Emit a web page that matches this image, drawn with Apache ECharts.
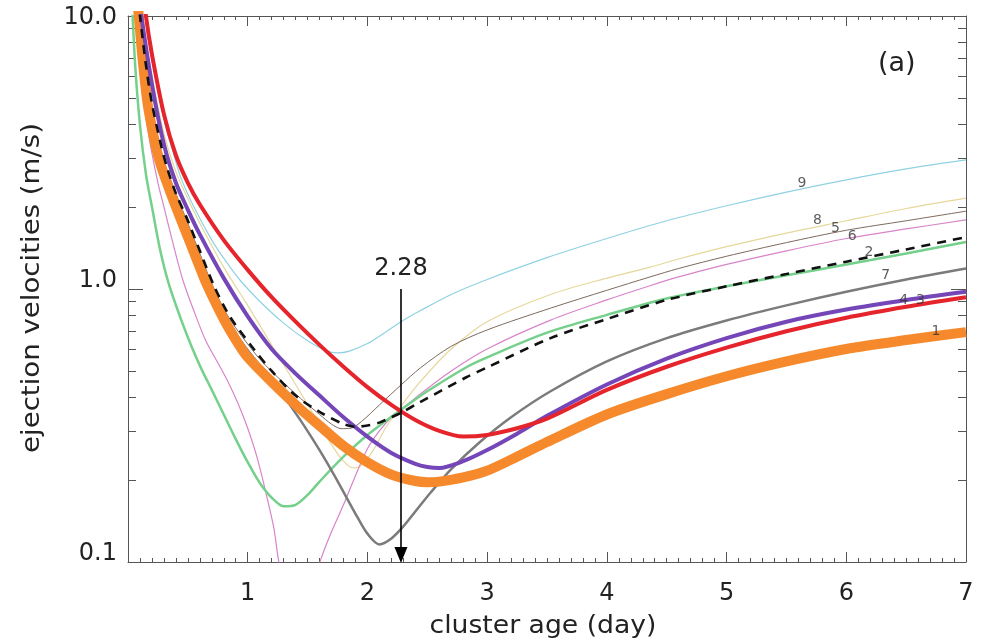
<!DOCTYPE html>
<html>
<head>
<meta charset="utf-8">
<script src="https://cdn.jsdelivr.net/npm/echarts@6/dist/echarts.min.js"></script>
<style>
  html, body { margin: 0; padding: 0; background: #fff; }
  #chart { width: 988px; height: 643px; }
</style>
</head>
<body>
<div id="chart"></div>
<script>
// curvas: [edad (día), velocidad (m/s)]
const curve1 = [[0.06,14],[0.09,10],[0.12,7.08],[0.16,4.9],[0.2,3.89],[0.25,3.09],[0.3,2.63],[0.4,2.0],[0.5,1.55],[0.6,1.2],[0.66,1.035],[0.8,0.776],[0.92,0.631],[1.0,0.562],[1.2,0.457],[1.44,0.363],[1.6,0.316],[1.8,0.266],[2.0,0.232],[2.2,0.209],[2.4,0.198],[2.5,0.196],[2.6,0.197],[2.8,0.204],[3.0,0.216],[3.25,0.243],[3.5,0.275],[4.0,0.347],[4.5,0.412],[5.0,0.479],[5.5,0.543],[6.0,0.603],[6.5,0.65],[7.0,0.695]];
const curve2 = [[0.02,15.8],[0.03,12],[0.06,6.61],[0.1,3.98],[0.15,2.63],[0.2,2.0],[0.27,1.38],[0.34,1.047],[0.45,0.759],[0.53,0.617],[0.61,0.513],[0.7,0.427],[0.8,0.347],[0.9,0.282],[1.0,0.232],[1.1,0.195],[1.2,0.172],[1.3,0.16],[1.4,0.162],[1.5,0.176],[1.6,0.197],[1.8,0.243],[2.0,0.292],[2.28,0.361],[2.5,0.422],[2.83,0.518],[3.0,0.562],[3.5,0.692],[4.0,0.804],[4.5,0.923],[5.0,1.023],[5.5,1.122],[6.0,1.23],[6.5,1.349],[7.0,1.486]];
const curve3 = [[0.13,12.6],[0.15,10],[0.2,7.24],[0.3,4.37],[0.4,3.09],[0.5,2.45],[0.6,2.04],[0.8,1.51],[1.0,1.175],[1.2,0.933],[1.4,0.759],[1.6,0.624],[1.8,0.519],[2.0,0.437],[2.2,0.376],[2.4,0.331],[2.6,0.302],[2.8,0.288],[3.0,0.292],[3.25,0.309],[3.5,0.335],[4.0,0.427],[4.5,0.519],[5.0,0.61],[5.5,0.7],[6.0,0.785],[6.5,0.861],[7.0,0.933]];
const curve4 = [[0.09,11.5],[0.2,5.62],[0.3,3.39],[0.4,2.45],[0.5,1.95],[0.6,1.585],[0.8,1.096],[1.0,0.794],[1.2,0.603],[1.4,0.49],[1.6,0.407],[1.8,0.339],[2.0,0.288],[2.2,0.251],[2.4,0.229],[2.5,0.223],[2.6,0.221],[2.8,0.234],[3.0,0.257],[3.25,0.295],[3.5,0.343],[4.0,0.447],[4.5,0.556],[5.0,0.661],[5.5,0.759],[6.0,0.841],[6.5,0.912],[7.0,0.977]];
const curve5 = [[0.06,13.2],[0.1,9.12],[0.2,4.47],[0.3,2.95],[0.4,2.24],[0.5,1.74],[0.6,1.35],[0.72,1.0],[0.85,0.776],[1.05,0.589],[1.15,0.525],[1.28,0.462],[1.44,0.398],[1.6,0.347],[1.7,0.32],[1.78,0.308],[1.86,0.309],[1.95,0.327],[2.1,0.376],[2.28,0.445],[2.44,0.513],[2.7,0.617],[3.0,0.708],[3.53,0.851],[4.0,0.989],[4.36,1.107],[4.6,1.189],[5.0,1.318],[5.5,1.479],[6.0,1.641],[6.5,1.778],[7.0,1.928]];
const curve6 = [[0.04,14.1],[0.06,11.2],[0.1,6.61],[0.15,4.27],[0.19,3.31],[0.25,2.45],[0.3,2.0],[0.38,1.445],[0.46,1.072],[0.55,0.832],[0.65,0.646],[0.75,0.537],[0.83,0.462],[0.92,0.38],[1.0,0.309],[1.08,0.24],[1.17,0.166],[1.22,0.132],[1.26,0.1],[1.32,0.079],[1.38,0.066],[1.45,0.06],[1.5,0.069],[1.55,0.083],[1.61,0.102],[1.7,0.129],[1.8,0.162],[1.9,0.207],[2.0,0.26],[2.1,0.302],[2.2,0.339],[2.28,0.361],[2.44,0.412],[2.7,0.501],[3.0,0.603],[3.53,0.769],[4.0,0.912],[4.36,1.028],[4.6,1.107],[5.0,1.23],[5.5,1.38],[6.0,1.531],[6.5,1.66],[7.0,1.791]];
const curve7 = [[0.06,13],[0.09,10],[0.12,7.41],[0.16,5.13],[0.2,4.07],[0.25,3.24],[0.3,2.75],[0.4,2.09],[0.5,1.62],[0.6,1.26],[0.66,1.084],[0.8,0.822],[0.92,0.668],[1.0,0.596],[1.1,0.525],[1.2,0.462],[1.28,0.417],[1.44,0.331],[1.6,0.257],[1.72,0.209],[1.82,0.174],[1.92,0.145],[2.0,0.127],[2.1,0.116],[2.2,0.122],[2.3,0.135],[2.4,0.153],[2.53,0.18],[2.7,0.219],[2.94,0.275],[3.2,0.339],[3.53,0.422],[4.0,0.543],[4.5,0.661],[5.0,0.767],[5.5,0.871],[6.0,0.977],[6.5,1.084],[7.0,1.189]];
const curve8 = [[0.08,12.6],[0.12,9.55],[0.2,6.03],[0.3,3.72],[0.4,2.69],[0.5,2.14],[0.6,1.74],[0.8,1.2],[1.0,0.871],[1.22,0.603],[1.4,0.447],[1.55,0.347],[1.7,0.269],[1.8,0.234],[1.88,0.221],[1.95,0.226],[2.05,0.257],[2.15,0.309],[2.28,0.372],[2.44,0.457],[2.7,0.603],[3.0,0.759],[3.53,0.955],[4.0,1.096],[4.36,1.202],[4.6,1.288],[5.0,1.429],[5.5,1.603],[6.0,1.778],[6.5,1.972],[7.0,2.153]];
const curve9 = [[0.12,12],[0.14,10],[0.2,6.92],[0.3,4.17],[0.37,3.24],[0.44,2.57],[0.55,2.0],[0.7,1.51],[0.82,1.259],[0.94,1.072],[1.1,0.902],[1.3,0.75],[1.5,0.646],[1.65,0.596],[1.75,0.583],[1.85,0.592],[2.0,0.631],[2.15,0.695],[2.28,0.759],[2.44,0.832],[2.7,0.955],[3.0,1.084],[3.5,1.303],[4.0,1.531],[4.5,1.778],[5.0,2.018],[5.5,2.265],[6.0,2.512],[6.5,2.754],[7.0,2.972]];
const curveMean = [[0.08,11.7],[0.1,10],[0.15,6.61],[0.2,4.79],[0.28,3.31],[0.33,2.75],[0.4,2.24],[0.5,1.78],[0.6,1.38],[0.72,1.023],[0.85,0.794],[1.05,0.603],[1.2,0.501],[1.4,0.407],[1.6,0.355],[1.8,0.32],[1.9,0.313],[2.0,0.316],[2.1,0.324],[2.2,0.339],[2.28,0.352],[2.44,0.385],[2.83,0.476],[3.0,0.516],[3.53,0.661],[4.0,0.776],[4.5,0.912],[5.0,1.023],[5.5,1.135],[6.0,1.259],[6.5,1.396],[7.0,1.549]];

// etiquetas numéricas sobre las curvas
const labelText = ['9', '8', '5', '6', '2', '7', '4', '3', '1'];
const labelAge = [5.63, 5.76, 5.91, 6.05, 6.19, 6.33, 6.48, 6.62, 6.75];
const labelVel = [2.44, 1.79, 1.67, 1.56, 1.36, 1.12, 0.91, 0.91, 0.70];

// flecha en 2.28 días
const arrowAge = 2.28;
const arrowTop = 1.0;
const arrowBottom = 0.106;

const yLabelLow = [0.1, 1];
const yLabelTop = [10];
const yMinor = [0.2, 0.3, 0.4, 0.5, 0.6, 0.7, 0.8, 0.9, 2, 3, 4, 5, 6, 7, 8, 9];

const FONT = 'DejaVu Sans';
const TXT = '#222';
const AX = '#555';

const chart = echarts.init(document.getElementById('chart'));

function line(data, color, width, extra) {
  return Object.assign({
    type: 'line',
    data,
    showSymbol: false,
    smooth: 0.3,
    silent: true,
    z: 2,
    lineStyle: { color, width }
  }, extra || {});
}

function yAx(position, minor) {
  return {
    type: 'log',
    logBase: 10,
    min: 0.1,
    max: 10,
    position,
    axisLine: { show: !minor, lineStyle: { color: AX, width: 1 } },
    axisTick: minor
      ? { show: true, inside: true, length: 8, customValues: yMinor, lineStyle: { color: AX } }
      : { show: true, inside: true, length: 15, lineStyle: { color: AX } },
    axisLabel: { show: false },
    splitLine: { show: false }
  };
}

const yLabelStyle = {
  show: true, fontFamily: FONT, fontSize: 24, color: TXT, margin: 11,
  formatter: v => Number(v).toFixed(1)
};
const leftMain = yAx('left', false);
leftMain.axisLabel = Object.assign({}, yLabelStyle, { customValues: yLabelLow, verticalAlign: 'bottom', lineHeight: 16 });
const leftMinor = yAx('left', true);
leftMinor.axisLabel = Object.assign({}, yLabelStyle, { customValues: yLabelTop, verticalAlign: 'top', lineHeight: 4 });

chart.setOption({
  animation: false,
  backgroundColor: '#fff',
  grid: { left: 128, right: 22, top: 16, bottom: 81 },
  xAxis: [
    {
      type: 'value', min: 0, max: 7, interval: 1, position: 'bottom',
      axisLine: { lineStyle: { color: AX, width: 1 } },
      axisTick: { inside: true, length: 10, lineStyle: { color: AX } },
      minorTick: { show: true, splitNumber: 10, length: 4, lineStyle: { color: AX } },
      axisLabel: {
        fontFamily: FONT, fontSize: 24, color: TXT, margin: 20,
        formatter: v => (v === 0 ? '' : String(v))
      },
      splitLine: { show: false }
    },
    {
      type: 'value', min: 0, max: 7, interval: 1, position: 'top',
      axisLine: { lineStyle: { color: AX, width: 1 } },
      axisTick: { inside: true, length: 10, lineStyle: { color: AX } },
      minorTick: { show: true, splitNumber: 10, length: 4, lineStyle: { color: AX } },
      axisLabel: { show: false },
      splitLine: { show: false }
    }
  ],
  yAxis: [leftMain, leftMinor, yAx('right', false), yAx('right', true)],
  graphic: [
    {
      type: 'text', x: 543, y: 627, scaleX: 1.11, silent: true,
      style: { text: 'cluster age (day)', font: '24px "DejaVu Sans"', fill: TXT, align: 'center', verticalAlign: 'middle' }
    },
    {
      type: 'text', x: 33, y: 288, rotation: Math.PI / 2, scaleX: 1.15, silent: true,
      style: { text: 'ejection velocities (m/s)', font: '24px "DejaVu Sans"', fill: TXT, align: 'center', verticalAlign: 'middle' }
    },
    {
      type: 'text', x: 878, y: 50, silent: true,
      style: { text: '(a)', font: '27px "DejaVu Sans"', fill: TXT }
    }
  ],
  series: [
    line(curve9, '#8fd2e2', 1.2),
    line(curve8, '#e6d79a', 1.2),
    line(curve5, '#7d6a5e', 1),
    line(curve6, '#d984c9', 1.2),
    line(curve2, '#74d08b', 2.5),
    line(curve7, '#7b7b7b', 2.5),
    line(curve1, '#f5892c', 10),
    line(curve4, '#7446b8', 4),
    line(curve3, '#e5242b', 4),
    line(curveMean, '#111', 2.6, {
      lineStyle: { color: '#111', width: 2.6, type: [9, 7] },
      markLine: {
        silent: true,
        symbol: ['none', 'triangle'],
        symbolSize: [13, 16],
        lineStyle: { color: '#000', width: 1.6, type: 'solid' },
        label: {
          show: true, position: 'start', distance: 8, formatter: String(arrowAge),
          fontFamily: FONT, fontSize: 24, color: TXT
        },
        emphasis: { disabled: true },
        data: [[{ coord: [arrowAge, arrowTop] }, { coord: [arrowAge, arrowBottom] }]]
      }
    }),
    {
      type: 'scatter',
      symbolSize: 0,
      silent: true,
      z: 5,
      data: labelText.map((t, i) => ({ name: t, value: [labelAge[i], labelVel[i]] })),
      label: {
        show: true, position: 'inside', formatter: p => p.name,
        fontFamily: FONT, fontSize: 14, color: '#333'
      }
    }
  ]
});
</script>
</body>
</html>
